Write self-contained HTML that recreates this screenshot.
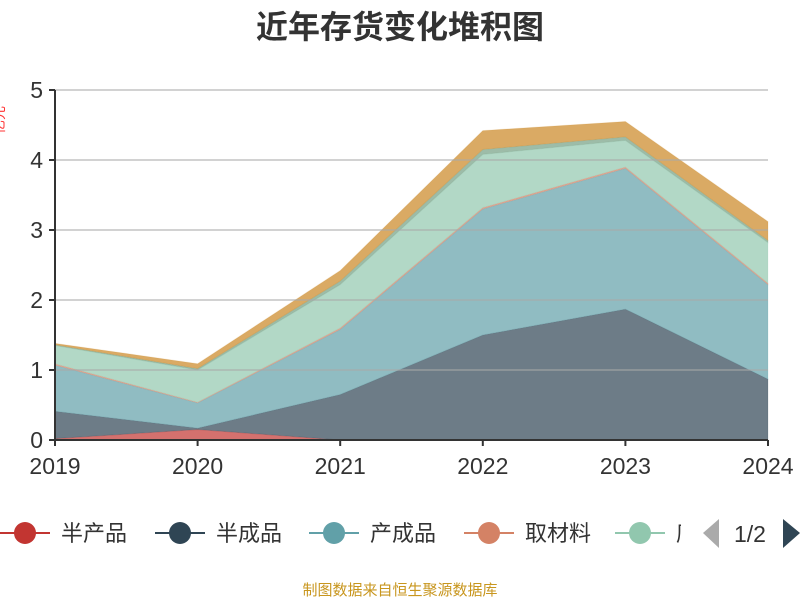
<!DOCTYPE html>
<html><head><meta charset="utf-8"><style>
body{margin:0;background:#fff;}
svg text{font-family:"Liberation Sans","Noto Sans CJK SC",sans-serif;}
</style></head><body>
<svg width="800" height="600" viewBox="0 0 800 600">
<text x="400" y="38" text-anchor="middle" font-size="32" font-weight="bold" fill="#333">近年存货变化堆积图</text>
<text x="4" y="120" text-anchor="middle" font-size="14" fill="#f33" transform="rotate(-90 4 120)">亿元</text>
<g id="areas"></g>
<g id="grid"></g>
<g id="axes"></g>
<g id="legend"></g>
<text x="400" y="595" text-anchor="middle" font-size="15" fill="#c8961e">制图数据来自恒生聚源数据库</text>
</svg>
<script>
const categories=["2019","2020","2021","2022","2023","2024"];
const seriesNames=["半产品","半成品","产成品","取材料","库存商品","在产品","发出商品"];
const s1=[0.02,0.15,0.0,0.0,0.0,0.0];
const s2=[0.39,0.02,0.65,1.5,1.87,0.87];
const s3=[0.66,0.36,0.93,1.8,2.01,1.35];
const s4=[0.02,0.01,0.02,0.02,0.02,0.02];
const s5=[0.26,0.46,0.62,0.76,0.38,0.58];
const s6=[0.01,0.02,0.05,0.07,0.05,0.03];
const s7=[0.02,0.07,0.15,0.27,0.22,0.27];
const yTicks=[0,1,2,3,4,5];
const series=[s1,s2,s3,s4,s5,s6,s7];
const colors=["#c23531","#2f4554","#61a0a8","#d48265","#91c7ae","#749f83","#ca8622"];
const NS="http://www.w3.org/2000/svg";
const x0=55,x1=768,y0=440,y1=90;
const xs=i=>x0+(x1-x0)*i/(categories.length-1);
const ys=v=>y0-(y0-y1)*v/5;
function mk(t,a,p){const e=document.createElementNS(NS,t);for(const k in a)e.setAttribute(k,a[k]);p.appendChild(e);return e;}
const areas=document.getElementById('areas');
let base=categories.map(()=>0);
series.forEach((s,k)=>{
  const top=base.map((b,i)=>b+s[i]);
  let d="M"+categories.map((c,i)=>xs(i)+","+ys(top[i])).join("L");
  for(let i=categories.length-1;i>=0;i--)d+="L"+xs(i)+","+ys(base[i]);
  const p=mk('path',{d:d+"Z",fill:colors[k],'fill-opacity':0.7,stroke:colors[k],'stroke-opacity':0.15,'stroke-width':1},areas);
  
  
  base=top;
});
const grid=document.getElementById('grid'),axes=document.getElementById('axes');
yTicks.forEach(v=>{
  if(v>0){const l=mk('line',{x1:x0,x2:x1,y1:ys(v),y2:ys(v),stroke:'#aaa','stroke-opacity':0.7,'stroke-width':1.5},grid);
  
  }
  const tk=mk('line',{x1:x0-6,x2:x0,y1:ys(v),y2:ys(v),stroke:'#333','stroke-width':2},axes);
  
  
  const t=mk('text',{x:x0-12,y:ys(v)+8,'text-anchor':'end','font-size':23,fill:'#333'},axes);
  t.textContent=v;
  
  
});
mk('line',{x1:x0,x2:x0,y1:y1,y2:y0,stroke:'#333','stroke-width':2},axes);
mk('line',{x1:x0,x2:x1,y1:y0,y2:y0,stroke:'#333','stroke-width':2},axes);
categories.forEach((c,i)=>{
  const tk=mk('line',{x1:xs(i),x2:xs(i),y1:y0,y2:y0+6,stroke:'#333','stroke-width':2},axes);
  
  
  const t=mk('text',{x:xs(i),y:y0+34,'text-anchor':'middle','font-size':23,fill:'#333'},axes);
  t.textContent=c;
  
  
});
const lg=document.getElementById('legend');
const lx=[23,178,332,487,638];
lx.forEach((cx,k)=>{
  const g=mk('g',{},lg);
  
  
  mk('line',{x1:cx-23,x2:cx+27,y1:533,y2:533,stroke:colors[k],'stroke-width':2},g);
  mk('circle',{cx:cx+2,cy:533,r:11,fill:colors[k]},g);
  const t=mk('text',{x:cx+38,y:541,'font-size':22,fill:'#333'},g);
  t.textContent=seriesNames[k];
});
</script>
<svg style="position:absolute;left:0;top:0" width="800" height="600"><rect x="681" y="515" width="119" height="40" fill="#fff"/>
<polygon points="719,519 719,548 703,533" fill="#aaa"/>
<text x="750" y="542" text-anchor="middle" font-size="23" fill="#333" font-family="Liberation Sans,sans-serif">1/2</text>
<polygon points="783,519 783,548 800,533" fill="#2f4554"/>
</svg>
</body></html>
